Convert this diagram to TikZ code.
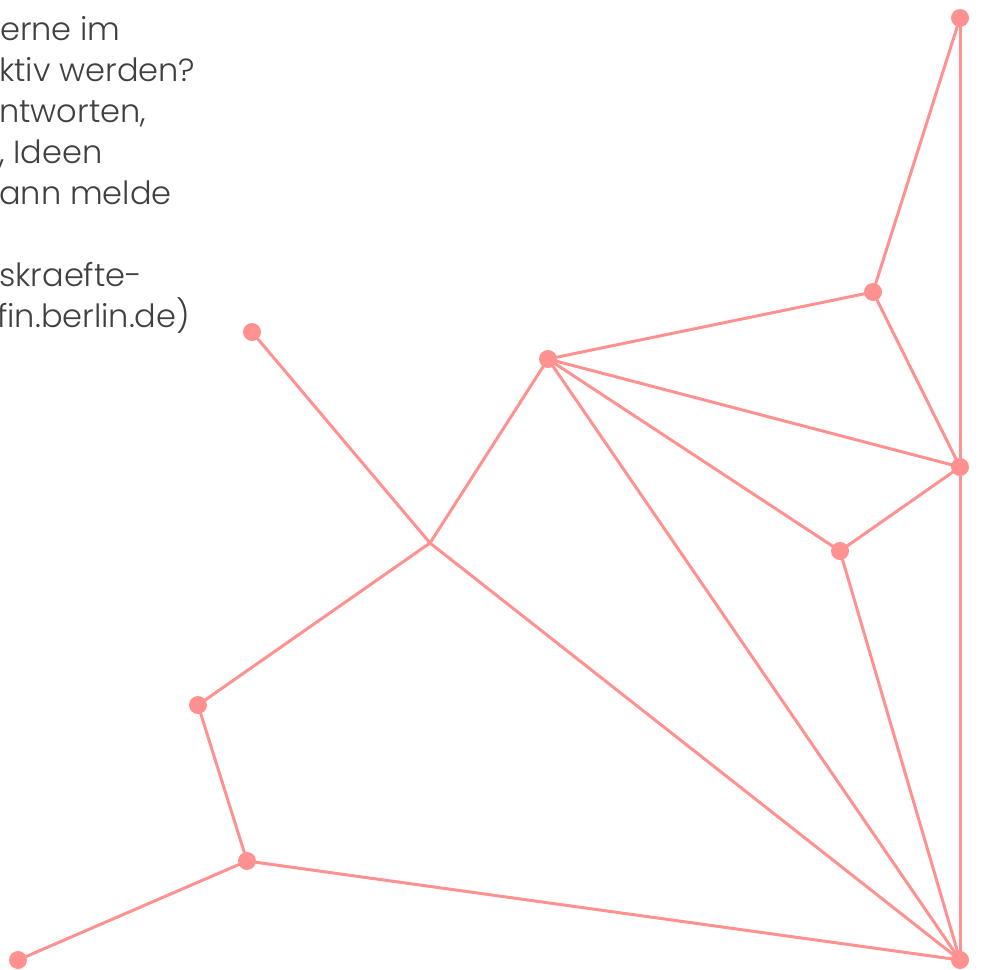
\documentclass[tikz,border=0pt]{standalone}
\usepackage{fontspec}
\setmainfont{Poppins}[UprightFont=* Light]
\usetikzlibrary{positioning,backgrounds}
\definecolor{netpink}{RGB}{255,145,145}
\definecolor{textgrey}{RGB}{64,64,64}
\tikzset{
  dot/.style={circle,fill=netpink,inner sep=0pt,minimum size=18pt},
  edge/.style={draw=netpink,line width=3pt},
  txt/.style={anchor=base west,inner sep=0pt,text=textgrey,font=\fontsize{32}{38}\selectfont}
}

\begin{document}
\begin{tikzpicture}[x=1pt,y=-1pt]
\useasboundingbox (0,0) rectangle (984,969);
\begin{scope}
\clip (0,0) rectangle (984,969);
\node[txt] (t1) at (0,40) {erne im};
\node[txt] (t2) at (-1,81) {ktiv werden?};
\node[txt] (t3) at (-1,122) {ntworten,};
\node[txt] (t4) at (-1,163) {, Ideen};
\node[txt] (t5) at (-1,204) {ann melde};
\node[txt] (t6) at (-1,286) {skraefte-};
\node[txt] (t7) at (-3,327) {fin.berlin.de)};
\end{scope}
% junction without a dot
\coordinate (h) at (430,543);
\node[dot] (a) at (960,18) {};
\node[dot] (b) at (873,292) {};
\node[dot] (c) at (548,359) {};
\node[dot] (d) at (960,467) {};
\node[dot] (e) at (840,551) {};
\node[dot] (f) at (960,960) {};
\node[dot] (g) at (252,332) {};
\node[dot] (i) at (198,705) {};
\node[dot] (j) at (247,861) {};
\node[dot] (k) at (18,960) {};
\begin{scope}[on background layer]
\draw[edge] (a.center) -- (b.center);
\draw[edge] (a.center) -- (d.center);
\draw[edge] (d.center) -- (f.center);
\draw[edge] (b.center) -- (c.center);
\draw[edge] (b.center) -- (d.center);
\draw[edge] (c.center) -- (d.center);
\draw[edge] (c.center) -- (e.center);
\draw[edge] (e.center) -- (d.center);
\draw[edge] (c.center) -- (f.center);
\draw[edge] (e.center) -- (f.center);
\draw[edge] (c.center) -- (h);
\draw[edge] (g.center) -- (h);
\draw[edge] (h) -- (f.center);
\draw[edge] (h) -- (i.center);
\draw[edge] (i.center) -- (j.center);
\draw[edge] (j.center) -- (f.center);
\draw[edge] (j.center) -- (k.center);
\end{scope}
\end{tikzpicture}
\end{document}
